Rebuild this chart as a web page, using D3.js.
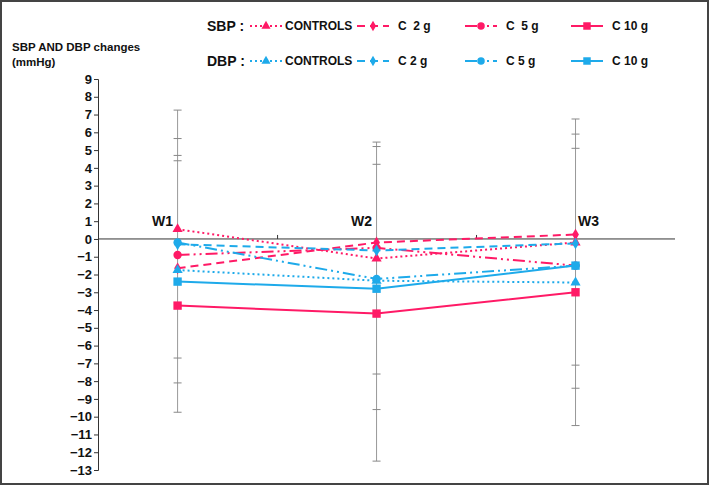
<!DOCTYPE html>
<html><head><meta charset="utf-8">
<script src="https://cdn.jsdelivr.net/npm/d3@7"></script>
<style>
body{margin:0;background:#fff;font-family:Arial,"Liberation Sans",sans-serif;}
text{font-weight:bold;fill:#111;white-space:pre;}
</style></head><body>
<svg id="chart" width="709" height="485"></svg>
<script>
// Weeks and series values (mmHg change)
const weeks = ['W1', 'W2', 'W3'];
const sbpControls = [0.55, -1.1, -0.2];
const sbpC2 = [-1.65, -0.2, 0.25];
const sbpC5 = [-0.9, -0.5, -1.5];
const sbpC10 = [-3.75, -4.2, -3.0];
const dbpControls = [-1.75, -2.35, -2.45];
const dbpC2 = [-0.3, -0.65, -0.25];
const dbpC5 = [-0.2, -2.25, -1.5];
const dbpC10 = [-2.4, -2.8, -1.5];
// error bar extremities visible at each week
const errTops = [[7.25, 5.65, 4.7, 4.4], [5.45, 5.2, 4.2], [6.75, 5.9, 5.1]];
const errBottoms = [[-6.7, -8.1, -9.75], [-7.6, -9.6, -12.5], [-7.1, -8.4, -10.5]];
const yTicks = d3.range(-13, 10);

const PINK = '#ff1a66', BLUE = '#1eaaea';
const DASH = { dot: '2,3', dash: '8,5', dashdot: '12,4,2,4,2,4', solid: null };

const series = [
  { name: 'CONTROLS', group: 'SBP', values: sbpControls, color: PINK, dash: DASH.dot, sym: d3.symbolTriangle, size: 45 },
  { name: 'C  2 g', group: 'SBP', values: sbpC2, color: PINK, dash: DASH.dash, sym: d3.symbolDiamond, size: 40 },
  { name: 'C  5 g', group: 'SBP', values: sbpC5, color: PINK, dash: DASH.dashdot, sym: d3.symbolCircle, size: 55 },
  { name: 'C 10 g', group: 'SBP', values: sbpC10, color: PINK, dash: DASH.solid, sym: d3.symbolSquare, size: 70 },
  { name: 'CONTROLS', group: 'DBP', values: dbpControls, color: BLUE, dash: DASH.dot, sym: d3.symbolTriangle, size: 45 },
  { name: 'C 2 g', group: 'DBP', values: dbpC2, color: BLUE, dash: DASH.dash, sym: d3.symbolDiamond, size: 40 },
  { name: 'C 5 g', group: 'DBP', values: dbpC5, color: BLUE, dash: DASH.dashdot, sym: d3.symbolCircle, size: 55 },
  { name: 'C 10 g', group: 'DBP', values: dbpC10, color: BLUE, dash: DASH.solid, sym: d3.symbolSquare, size: 70 }
];

const svg = d3.select('#chart');
svg.append('rect').attr('x', 1).attr('y', 1).attr('width', 707).attr('height', 483)
  .attr('fill', '#fff').attr('stroke', '#444').attr('stroke-width', 2);

const x = d3.scaleLinear().domain([0.6, 3.5]).range([98, 675]);
const y = d3.scaleLinear().domain([-13, 9]).range([470, 79]);
const xi = i => x(i + 1);

// y axis
const yAxis = svg.append('g').attr('transform', 'translate(98,0)')
  .call(d3.axisLeft(y).tickValues(yTicks).tickSize(4).tickFormat(d3.format('d')));
yAxis.selectAll('text').attr('font-size', 13).attr('x', -6);
yAxis.selectAll('line,path').attr('stroke', '#333');

// x axis at zero
const xAxis = svg.append('g').attr('transform', `translate(0,${y(0)})`)
  .call(d3.axisTop(x).tickValues([1.5, 2.5]).tickSize(4).tickFormat(''));
xAxis.select('.domain').attr('d', `M${x(0.6)},0H${x(3.5)}`);
xAxis.selectAll('line,path').attr('stroke', '#333');
weeks.forEach((w, i) => {
  svg.append('text').attr('x', xi(i) - 15 + (i === 2 ? 28 : 0)).attr('y', y(0) - 13)
    .attr('text-anchor', 'middle').attr('font-size', 14).text(w);
});

// error bars
weeks.forEach((w, i) => {
  const g = svg.append('g').attr('stroke', '#888').attr('stroke-width', 1);
  const lo = d3.min(errBottoms[i]), hi = d3.max(errTops[i]);
  g.append('line').attr('x1', xi(i)).attr('x2', xi(i)).attr('y1', y(hi)).attr('y2', y(lo)).attr('stroke', '#999');
  errTops[i].concat(errBottoms[i]).forEach(v => {
    g.append('line').attr('x1', xi(i) - 4).attr('x2', xi(i) + 4).attr('y1', y(v)).attr('y2', y(v));
  });
});

// lines and markers
const line = d3.line().x((d, i) => xi(i)).y(d => y(d));
series.forEach(s => {
  svg.append('path').datum(s.values).attr('d', line).attr('fill', 'none')
    .attr('stroke', s.color).attr('stroke-width', 2).attr('stroke-dasharray', s.dash);
  svg.selectAll(null).data(s.values).enter().append('path')
    .attr('transform', (d, i) => `translate(${xi(i)},${y(d)})`)
    .attr('d', d3.symbol(s.sym, s.size)).attr('fill', s.color);
});

// title
svg.append('text').attr('x', 12).attr('y', 51).attr('font-size', 11.5).text('SBP AND DBP changes');
svg.append('text').attr('x', 12).attr('y', 66).attr('font-size', 11.5).text('(mmHg)');

// legend
const legX = [250, 357, 465, 571];
['SBP', 'DBP'].forEach((grp, r) => {
  const ly = 26 + r * 35;
  svg.append('text').attr('x', 207).attr('y', ly + 5).attr('font-size', 14).text(grp + ' :');
  series.filter(s => s.group === grp).forEach((s, k) => {
    const x0 = legX[k], x1 = x0 + 32;
    svg.append('line').attr('x1', x0).attr('x2', x1).attr('y1', ly).attr('y2', ly)
      .attr('stroke', s.color).attr('stroke-width', 2).attr('stroke-dasharray', s.dash);
    svg.append('path').attr('transform', `translate(${(x0 + x1) / 2},${ly})`)
      .attr('d', d3.symbol(s.sym, s.size * 0.8)).attr('fill', s.color);
    svg.append('text').attr('x', x1 + 3 + (k > 0 ? 6 : 0)).attr('y', ly + 4).attr('font-size', 12).text(s.name);
  });
});
</script></body></html>
